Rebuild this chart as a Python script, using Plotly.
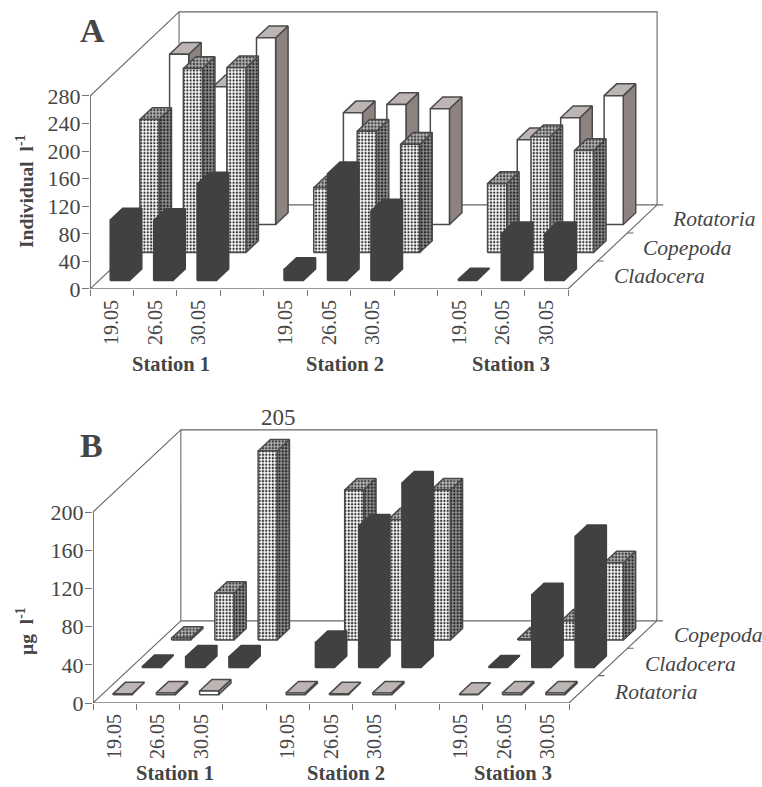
import plotly.graph_objects as go

# ---------- data ----------
dates = ["19.05", "26.05", "30.05"]
slots = [0, 1, 2, 4, 5, 6, 8, 9, 10]          # category slots on the x axis
a_cladocera = [88, 87, 140, 16, 155, 101, 1, 68, 68]
a_copepoda = [193, 267, 268, 94, 176, 157, 100, 168, 148]
a_rotatoria = [247, 200, 271, 162, 174, 168, 123, 155, 187]
b_rotatoria = [1, 2, 4, 2, 1, 2, 0.5, 2, 2]
b_cladocera = [1, 11, 11, 26, 148, 193, 0.5, 76, 137]
b_copepoda = [2, 49, 198, 157, 126, 157, 1, 20, 81]
y_ticks_a = [0, 40, 80, 120, 160, 200, 240, 280]
y_ticks_b = [0, 40, 80, 120, 160, 200]

W, H = 762, 787
INK = "#454545"
WALL = "#666666"
AXIS = "#777777"
DARK = "#414141"
SERIF = "Liberation Serif"

STY = {
    "dark": dict(front=(DARK, None), side=(DARK, None), top=(DARK, None), line=DARK),
    "dots": dict(front=("#ffffff", "#333333"), side=("#909090", "#222222"), top=("#b5b5b5", "#3a3a3a"), line="#4a4a4a"),
    "white": dict(front=("#ffffff", None), side=("#8c8280", None), top=("#bdb5b3", None), line="#4a4a4a"),
}

fig = go.Figure()


def poly(xa, ya, xs, ys, fill, line, width=1.5):
    bg, fg = fill
    t = go.Scatter(x=xs + xs[:1], y=ys + ys[:1], xaxis=xa, yaxis=ya, mode="lines", fill="toself",
                   fillcolor=bg, line=dict(color=line, width=width), hoverinfo="skip", cliponaxis=False,
                   showlegend=False)
    if fg:
        t.fillpattern = dict(shape=".", size=3.3, solidity=0.4, bgcolor=bg, fgcolor=fg, fillmode="replace")
    fig.add_trace(t)


def seg(xa, ya, xs, ys, width=1.1, color=WALL):
    fig.add_trace(go.Scatter(x=xs, y=ys, xaxis=xa, yaxis=ya, mode="lines", line=dict(color=color, width=width),
                             hoverinfo="skip", cliponaxis=False, showlegend=False))


def panel(xa, ya, series, depth_x, depth_y, ymax):
    def P(x, v, d):
        return x + d / 3 * depth_x, v + d / 3 * depth_y

    # axis lines and walls
    seg(xa, ya, [0, 0], [0, ymax], width=2, color=AXIS)
    seg(xa, ya, [0, 11], [0, 0], width=1.6, color=AXIS)
    a, b = P(0, 0, 3), P(0, ymax, 3)
    c, d_ = P(11, ymax, 3), P(11, 0, 3)
    seg(xa, ya, [0, a[0]], [ymax, b[1]])
    seg(xa, ya, [0, a[0]], [0, a[1]])
    seg(xa, ya, [a[0], b[0], c[0], d_[0]], [a[1], b[1], c[1], d_[1]])
    seg(xa, ya, [a[0], d_[0] + 0.14], [a[1], d_[1]])
    seg(xa, ya, [11, d_[0]], [0, d_[1]])
    for i in (1, 2):
        p = P(11, 0, i)
        seg(xa, ya, [p[0], p[0] + 0.14], [p[1], p[1]])

    # bars, back row first
    x0, x1, d0, d1 = 0.26, 0.70, 0.30, 0.72
    for row in reversed(range(3)):
        vals, kind = series[row]
        s = STY[kind]
        for slot, v in zip(slots, vals):
            L, R = slot + x0, slot + x1
            A, B = row + d0, row + d1
            f = [P(L, 0, A), P(R, 0, A), P(R, v, A), P(L, v, A)]
            r = [P(R, 0, A), P(R, 0, B), P(R, v, B), P(R, v, A)]
            t = [P(L, v, A), P(R, v, A), P(R, v, B), P(L, v, B)]
            for pts, face in ((r, "side"), (t, "top"), (f, "front")):
                poly(xa, ya, [p[0] for p in pts], [p[1] for p in pts], s[face], s["line"])


panel("x", "y", [(a_cladocera, "dark"), (a_copepoda, "dots"), (a_rotatoria, "white")], 2.05, 122, 280)
panel("x2", "y2", [(b_rotatoria, "white"), (b_cladocera, "dark"), (b_copepoda, "dots")], 2.03, 86, 200)

X_SPAN = 14


def xaxis(x_left, x_right, anchor):
    return dict(domain=[x_left / W, (x_left + X_SPAN * (x_right - x_left) / 11) / W], range=[0, X_SPAN],
                anchor=anchor, automargin=False,
                tickmode="array", tickvals=[s + 0.5 for s in slots], ticktext=dates * 3, tickangle=-90,
                ticks="outside", ticklen=2, tickcolor="rgba(0,0,0,0)",
                tickfont=dict(family=SERIF, size=20, color=INK),
                showline=False, showgrid=False, zeroline=False,
                minor=dict(tickmode="array", tickvals=list(range(12)), ticks="outside", ticklen=6,
                           tickcolor=AXIS, tickwidth=1.2, showgrid=False))


def yaxis(py_bottom, py_top, ymax, span, ticks, anchor):
    unit = (py_bottom - py_top) / ymax
    return dict(domain=[1 - py_bottom / H, 1 - (py_bottom - span * unit) / H], range=[0, span], anchor=anchor,
                automargin=False,
                tickmode="array", tickvals=ticks, ticks="outside", ticklen=7, tickcolor=AXIS, tickwidth=1.2,
                ticklabelstandoff=-3,
                tickfont=dict(family=SERIF, size=22, color=INK),
                showline=False, showgrid=False, zeroline=False)


def text(px, py, s, size=20, bold=False, italic=False, angle=0, anchor="center"):
    if bold:
        s = f"<b>{s}</b>"
    if italic:
        s = f"<i>{s}</i>"
    fig.add_annotation(x=px / W, y=1 - py / H, xref="paper", yref="paper", text=s, showarrow=False,
                       xanchor=anchor, yanchor="middle", textangle=angle,
                       font=dict(family=SERIF, size=size, color=INK))


for px, py, s in [(171, 364, "Station 1"), (345, 364, "Station 2"), (511, 364, "Station 3"),
                  (175, 773, "Station 1"), (346, 773, "Station 2"), (513, 773, "Station 3")]:
    text(px, py, s, size=20.5, bold=True)

for px, py, s in [(670, 219, "Rotatoria"), (641, 248, "Copepoda"), (612, 276, "Cladocera"),
                  (672, 635, "Copepoda"), (643, 664, "Cladocera"), (612, 692, "Rotatoria")]:
    text(px, py, s, size=21.5, italic=True, anchor="left")

text(92, 30, "A", size=34, bold=True)
text(91, 445, "B", size=34, bold=True)
text(278, 418, "205", size=23)
text(25, 192, "Individual  l<sup>-1</sup>", size=19.5, bold=True, angle=-90)
text(25, 631, "µg  l<sup>-1</sup>", size=19.5, bold=True, angle=-90)

fig.update_layout(
    width=W, height=H, margin=dict(l=0, r=0, t=0, b=0), autosize=False,
    paper_bgcolor="white", plot_bgcolor="rgba(0,0,0,0)", showlegend=False,
    xaxis=xaxis(90, 568, "y"), yaxis=yaxis(289, 96, 280, 415, y_ticks_a, "x"),
    xaxis2=xaxis(93, 569, "y2"), yaxis2=yaxis(703, 512, 200, 310, y_ticks_b, "x2"),
)

fig.write_html("out.html", post_script="document.body.style.margin='0';document.body.style.overflow='hidden';",
               config={"displayModeBar": False})
